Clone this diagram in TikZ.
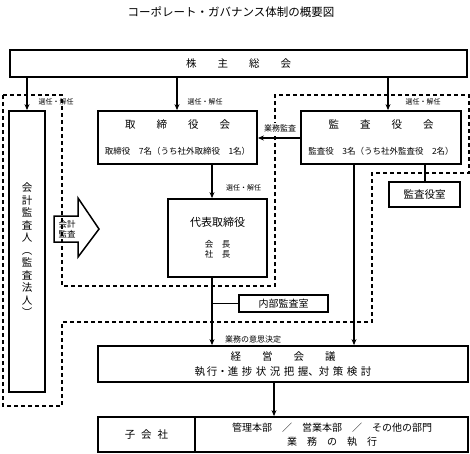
\documentclass[tikz,border=0pt]{standalone}
\usepackage{fontspec}
\setmainfont{Noto Sans CJK JP}
\usepackage{tikz}
\usetikzlibrary{arrows.meta}

\begin{document}
\begin{tikzpicture}[x=1pt, y=-1pt, color=black,
	box/.style={draw, line width=1.8pt, inner sep=0pt},
	arr/.style={-{Stealth[length=6pt,width=5pt]}, line width=1.3pt},
	conn/.style={line width=1.3pt},
	dash line/.style={line width=1.2pt, dash pattern=on 4pt off 3pt},
	lbl/.style={font=\fontsize{7}{8}\selectfont, inner sep=0pt},
	big/.style={font=\fontsize{10.5}{12}\selectfont, inner sep=0pt},
	small/.style={font=\fontsize{8.5}{10}\selectfont, inner sep=0pt}]
	\useasboundingbox (0,0) rectangle (470,453);
	\node[font=\fontsize{11.5}{13}\selectfont] (title) at (231,12) {コーポレート・ガバナンス体制の概要図};
	\draw[dash line] (3,95) -- (62,95) -- (62,286) -- (275,286) -- (275,95) -- (469,95) -- (469,173) -- (372,173) -- (372,322) -- (62,322) -- (62,406) -- (3,406) -- cycle;
	\node[box, minimum width=457pt, minimum height=27pt, big] (soukai) at (238.5,63.5) {株　　主　　総　　会};
	\node[box, minimum width=36pt, minimum height=281pt] (kansanin) at (27,251.5) {};
	\node[big, align=center, font=\fontsize{10.5}{12.5}\selectfont] (kansaninT) at (27,250) {会\\計\\監\\査\\人\\︵\\監\\査\\法\\人\\︶};
	\node[box, minimum width=159pt, minimum height=53pt] (torikai) at (177.5,137.5) {};
	\node[big] (torikaiT) at (177.5,125) {取　　締　　役　　会};
	\node[small] (torikaiS) at (177.5,151) {取締役　7名（うち社外取締役　1名）};
	\node[box, minimum width=160pt, minimum height=53pt] (kansakai) at (381,137.5) {};
	\node[big] (kansakaiT) at (381,125) {監　　査　　役　　会};
	\node[small] (kansakaiS) at (381,151) {監査役　3名（うち社外監査役　2名）};
	\node[box, minimum width=71pt, minimum height=25pt, big] (kansashitsu) at (424.5,194.5) {監査役室};
	\node[box, minimum width=99pt, minimum height=78pt] (daihyo) at (217.5,238) {};
	\node[font=\fontsize{11}{12}\selectfont, inner sep=0pt] (daihyoT) at (217.5,222) {代表取締役};
	\node[small, align=center, font=\fontsize{8.5}{10}\selectfont] (daihyoS) at (217.5,249) {会　長\\社　長};
	\node[box, minimum width=89pt, minimum height=17pt, font=\fontsize{10}{11}\selectfont] (naibu) at (283.5,303.5) {内部監査室};
	\node[box, minimum width=370pt, minimum height=36pt] (keiei) at (283,364) {};
	\node[big] (keieiT) at (283,356.5) {経　　営　　会　　議};
	\node[big] (keieiS) at (283,372) {執\,行・進\,\,捗\,\,状\,\,況\,\,把\,\,握、対\,\,策\,\,検\,\,討};
	\node[box, minimum width=370pt, minimum height=35pt] (bumon) at (283,434.5) {};
	\node[big] (kogaisha) at (146.5,435) {子\;\;会\;\;社};
	\node[font=\fontsize{10}{11}\selectfont, inner sep=0pt] (bumonT) at (332,427.5) {管理本部　／　営業本部　／　その他の部門};
	\node[font=\fontsize{10}{11}\selectfont, inner sep=0pt] (bumonS) at (332,442) {業　務　の　執　行};
	\draw[line width=1.3pt] (195,417) -- (195,452);
	\draw[line width=1.5pt] (54,216) -- (78,216) -- (78,198) -- (99,229) -- (78,257) -- (78,242) -- (54,242) -- cycle;
	\node[lbl, align=center, font=\fontsize{8.5}{10}\selectfont] (kaikei) at (67,229) {会計\\監査};
	\coordinate (xa) at (27,0);
	\coordinate (xb) at (177,0);
	\coordinate (xc) at (388,0);
	\coordinate (xd) at (212,0);
	\coordinate (xe) at (354,0);
	\coordinate (xf) at (425,0);
	\coordinate (xg) at (274,0);
	\coordinate (yn) at (0,303.5);
	\draw[arr] (soukai.south -| xa) -- (kansanin.north -| xa);
	\draw[arr] (soukai.south -| xb) -- (torikai.north -| xb);
	\draw[arr] (soukai.south -| xc) -- (kansakai.north -| xc);
	\draw[arr] (kansakai.west |- 0,138) -- (torikai.east |- 0,138);
	\draw[conn] (kansakai.south -| xf) -- (kansashitsu.north -| xf);
	\draw[arr] (kansakai.south -| xe) -- (keiei.north -| xe);
	\draw[arr] (torikai.south -| xd) -- (daihyo.north -| xd);
	\draw[arr] (daihyo.south -| xd) -- (keiei.north -| xd);
	\draw[conn] (xd |- yn) -- (naibu.west);
	\draw[arr] (keiei.south -| xg) -- (bumon.north -| xg);
	\node[lbl] (sen1) at (56,101.5) {選任・解任};
	\node[lbl] (sen2) at (205,101.5) {選任・解任};
	\node[lbl] (sen3) at (423,101.5) {選任・解任};
	\node[lbl] (sen4) at (243.5,187.5) {選任・解任};
	\node[lbl, font=\fontsize{8}{9}\selectfont, fill=white, inner sep=1.5pt] (gyomu) at (280,128.5) {業務監査};
	\node[lbl, font=\fontsize{8}{9}\selectfont] (ishi) at (253,339.5) {業務の意思決定};
\end{tikzpicture}
\end{document}
